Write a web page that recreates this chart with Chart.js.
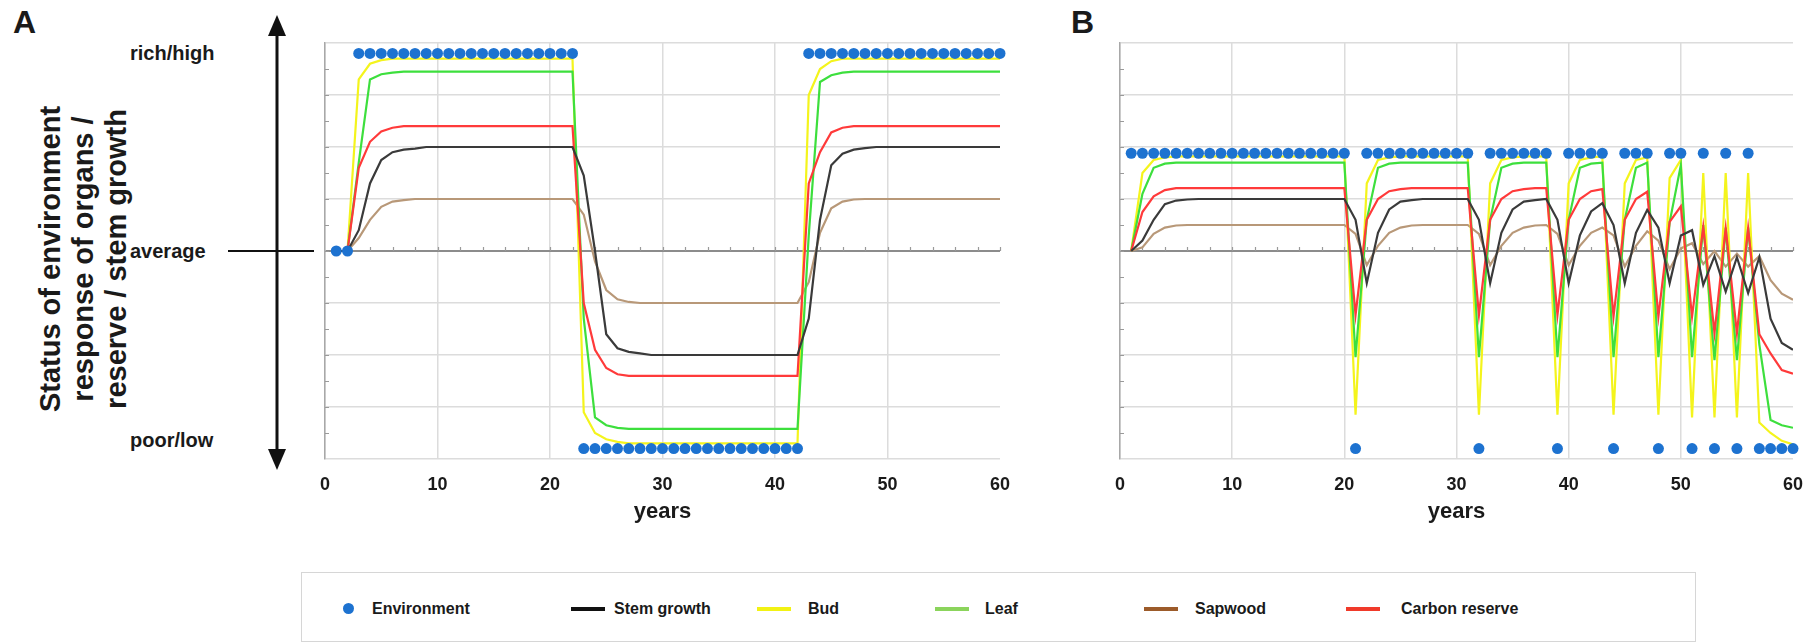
<!DOCTYPE html>
<html>
<head>
<meta charset="utf-8">
<script src="https://cdn.jsdelivr.net/npm/chart.js@4.4.1/dist/chart.umd.min.js"></script>
<style>
  body { margin: 0; background: #fff; width: 1811px; height: 644px; position: relative; overflow: hidden;
         font-family: "Liberation Sans", Arial, sans-serif; color: #1a1a1a; }
  .abs { position: absolute; }
  .panel { position: absolute; font-weight: bold; font-size: 32px; line-height: 32px; }
  .lvl { position: absolute; left: 130px; font-weight: bold; font-size: 20px; line-height: 20px; transform: translateY(-50%); }
  #ytitle { position: absolute; left: 83px; top: 259px; width: 440px; font-size: 29px; font-weight: bold; line-height: 33px; text-align: center;
            transform: translate(-50%, -50%) rotate(-90deg); white-space: nowrap; }
  #legend { position: absolute; left: 301px; top: 572px; width: 1395px; height: 70px; border: 1.5px solid #d6d6d6; box-sizing: border-box; }
  .lg { position: absolute; top: 609px; font-weight: bold; font-size: 16px; line-height: 16px; transform: translateY(-50%); }
  .sw { position: absolute; top: 607px; width: 34px; height: 4px; }
  .dot { position: absolute; top: 603px; width: 11px; height: 11px; border-radius: 50%; }
</style>
</head>
<body>
<div class="panel" style="left:13px; top:6px;">A</div>
<div class="panel" style="left:1071px; top:6px;">B</div>
<div id="ytitle">Status of environment<br>response of organs /<br>reserve / stem growth</div>
<div class="lvl" style="top:53px;">rich/high</div>
<div class="lvl" style="top:251px;">average</div>
<div class="lvl" style="top:440px;">poor/low</div>
<svg class="abs" style="left:0; top:0;" width="330" height="480">
  <line x1="277" y1="30" x2="277" y2="455" stroke="#111" stroke-width="3"/>
  <polygon points="277,15 268,36 286,36" fill="#111"/>
  <polygon points="277,470 268,449 286,449" fill="#111"/>
  <line x1="228" y1="251" x2="314" y2="251" stroke="#111" stroke-width="2"/>
</svg>

<canvas id="chartA" class="abs" style="left:315px; top:23px;" width="700" height="510"></canvas>
<canvas id="chartB" class="abs" style="left:1110px; top:23px;" width="695" height="510"></canvas>

<div id="legend"></div>
<div class="dot" style="left:343px; background:#1d72d0;"></div><div class="lg" style="left:372px;">Environment</div>
<div class="sw" style="left:571px; background:#111;"></div><div class="lg" style="left:614px;">Stem growth</div>
<div class="sw" style="left:757px; background:#f2f214;"></div><div class="lg" style="left:808px;">Bud</div>
<div class="sw" style="left:935px; background:#8bd45c;"></div><div class="lg" style="left:985px;">Leaf</div>
<div class="sw" style="left:1144px; background:#9c5b2a;"></div><div class="lg" style="left:1195px;">Sapwood</div>
<div class="sw" style="left:1346px; background:#f03a2a;"></div><div class="lg" style="left:1401px;">Carbon reserve</div>

<script>
const years = [1,2,3,4,5,6,7,8,9,10,
  11,12,13,14,15,16,17,18,19,20,
  21,22,23,24,25,26,27,28,29,30,
  31,32,33,34,35,36,37,38,39,40,
  41,42,43,44,45,46,47,48,49,50,
  51,52,53,54,55,56,57,58,59,60];
const xTicks = [0, 10, 20, 30, 40, 50, 60];

// Panel A: one long favourable / unfavourable swing
const envA = [0,0,3.8,3.8,3.8,3.8,3.8,3.8,3.8,3.8,
  3.8,3.8,3.8,3.8,3.8,3.8,3.8,3.8,3.8,3.8,
  3.8,3.8,-3.8,-3.8,-3.8,-3.8,-3.8,-3.8,-3.8,-3.8,
  -3.8,-3.8,-3.8,-3.8,-3.8,-3.8,-3.8,-3.8,-3.8,-3.8,
  -3.8,-3.8,3.8,3.8,3.8,3.8,3.8,3.8,3.8,3.8,
  3.8,3.8,3.8,3.8,3.8,3.8,3.8,3.8,3.8,3.8];
const budA = [0,0,3.3,3.6,3.67,3.7,3.7,3.7,3.7,3.7,
  3.7,3.7,3.7,3.7,3.7,3.7,3.7,3.7,3.7,3.7,
  3.7,3.7,-3.1,-3.5,-3.62,-3.67,-3.7,-3.7,-3.7,-3.7,
  -3.7,-3.7,-3.7,-3.7,-3.7,-3.7,-3.7,-3.7,-3.7,-3.7,
  -3.7,-3.7,3.0,3.5,3.65,3.7,3.7,3.7,3.7,3.7,
  3.7,3.7,3.7,3.7,3.7,3.7,3.7,3.7,3.7,3.7];
const leafA = [0,0,1.7,3.3,3.4,3.43,3.45,3.45,3.45,3.45,
  3.45,3.45,3.45,3.45,3.45,3.45,3.45,3.45,3.45,3.45,
  3.45,3.45,-1.3,-3.2,-3.35,-3.4,-3.42,-3.42,-3.42,-3.42,
  -3.42,-3.42,-3.42,-3.42,-3.42,-3.42,-3.42,-3.42,-3.42,-3.42,
  -3.42,-3.42,0.3,3.25,3.38,3.43,3.45,3.45,3.45,3.45,
  3.45,3.45,3.45,3.45,3.45,3.45,3.45,3.45,3.45,3.45];
const carbonA = [0,0,1.6,2.1,2.3,2.37,2.4,2.4,2.4,2.4,
  2.4,2.4,2.4,2.4,2.4,2.4,2.4,2.4,2.4,2.4,
  2.4,2.4,-1.0,-1.9,-2.25,-2.37,-2.4,-2.4,-2.4,-2.4,
  -2.4,-2.4,-2.4,-2.4,-2.4,-2.4,-2.4,-2.4,-2.4,-2.4,
  -2.4,-2.4,1.3,1.9,2.28,2.37,2.4,2.4,2.4,2.4,
  2.4,2.4,2.4,2.4,2.4,2.4,2.4,2.4,2.4,2.4];
const stemA = [0,0,0.4,1.3,1.75,1.9,1.95,1.97,2,2,
  2,2,2,2,2,2,2,2,2,2,
  2,2,1.45,0,-1.6,-1.87,-1.94,-1.97,-2,-2,
  -2,-2,-2,-2,-2,-2,-2,-2,-2,-2,
  -2,-2,-1.3,0.6,1.65,1.87,1.95,1.98,2,2,
  2,2,2,2,2,2,2,2,2,2];
const sapA = [0,0,0.25,0.6,0.85,0.95,0.98,1,1,1,
  1,1,1,1,1,1,1,1,1,1,
  1,1,0.7,-0.2,-0.75,-0.93,-0.98,-1,-1,-1,
  -1,-1,-1,-1,-1,-1,-1,-1,-1,-1,
  -1,-1,-0.6,0.35,0.82,0.95,0.99,1,1,1,
  1,1,1,1,1,1,1,1,1,1];

// Panel B: shortening good spells broken by single poor years
const envB = [1.88,1.88,1.88,1.88,1.88,1.88,1.88,1.88,1.88,1.88,
  1.88,1.88,1.88,1.88,1.88,1.88,1.88,1.88,1.88,1.88,
  -3.8,1.88,1.88,1.88,1.88,1.88,1.88,1.88,1.88,1.88,
  1.88,-3.8,1.88,1.88,1.88,1.88,1.88,1.88,-3.8,1.88,
  1.88,1.88,1.88,-3.8,1.88,1.88,1.88,-3.8,1.88,1.88,
  -3.8,1.88,-3.8,1.88,-3.8,1.88,-3.8,-3.8,-3.8,-3.8];
const budB = [0,1.5,1.75,1.8,1.82,1.82,1.82,1.82,1.82,1.82,
  1.82,1.82,1.82,1.82,1.82,1.82,1.82,1.82,1.82,1.82,
  -3.15,1.3,1.75,1.8,1.82,1.82,1.82,1.82,1.82,1.82,
  1.82,-3.15,1.3,1.75,1.8,1.82,1.82,1.82,-3.15,1.3,
  1.75,1.8,1.82,-3.15,1.3,1.75,1.8,-3.15,1.4,1.75,
  -3.2,1.5,-3.2,1.5,-3.2,1.5,-3.3,-3.5,-3.65,-3.72];
const leafB = [0,1.1,1.6,1.68,1.7,1.7,1.7,1.7,1.7,1.7,
  1.7,1.7,1.7,1.7,1.7,1.7,1.7,1.7,1.7,1.7,
  -2.04,0.6,1.6,1.68,1.7,1.7,1.7,1.7,1.7,1.7,
  1.7,-2.04,0.6,1.6,1.68,1.7,1.7,1.7,-2.04,0.6,
  1.6,1.68,1.7,-2.04,0.6,1.6,1.7,-2.04,0.55,1.65,
  -2.04,0.5,-2.1,0.45,-2.1,0.45,-1.8,-3.25,-3.35,-3.4];
const carbonB = [0,0.75,1.05,1.17,1.21,1.21,1.21,1.21,1.21,1.21,
  1.21,1.21,1.21,1.21,1.21,1.21,1.21,1.21,1.21,1.21,
  -1.23,0.6,1.0,1.15,1.19,1.21,1.21,1.21,1.21,1.21,
  1.21,-1.23,0.6,1.0,1.15,1.19,1.21,1.21,-1.23,0.6,
  1.0,1.15,1.19,-1.26,0.6,1.0,1.14,-1.26,0.56,0.86,
  -1.26,0.47,-1.58,0.44,-1.58,0.44,-1.6,-1.97,-2.29,-2.36];
const stemB = [0,0.2,0.6,0.9,0.97,0.99,1,1,1,1,
  1,1,1,1,1,1,1,1,1,1,
  0.6,-0.62,0.35,0.8,0.95,0.98,1,1,1,1,
  1,0.6,-0.62,0.35,0.8,0.95,0.98,1,0.6,-0.62,
  0.3,0.76,0.92,0.5,-0.62,0.35,0.79,0.45,-0.62,0.3,
  0.4,-0.65,-0.1,-0.78,-0.12,-0.81,-0.12,-1.3,-1.77,-1.9];
const sapB = [0,0.07,0.33,0.45,0.49,0.5,0.5,0.5,0.5,0.5,
  0.5,0.5,0.5,0.5,0.5,0.5,0.5,0.5,0.5,0.5,
  0.33,-0.27,0.1,0.35,0.45,0.49,0.5,0.5,0.5,0.5,
  0.5,0.33,-0.27,0.1,0.35,0.45,0.49,0.5,0.33,-0.27,
  0.1,0.35,0.45,0.3,-0.3,0.1,0.38,0.2,-0.35,0.05,
  0.15,-0.25,0,-0.3,-0.05,-0.3,-0.1,-0.56,-0.82,-0.94];

const FONT = '"Liberation Sans", Arial, sans-serif';
const colors = {
  env: '#1d72d0', stem: '#3a3a3a', bud: '#f4f41c', leaf: '#3ddf3d', sap: '#b89878', carbon: '#ff3a3a'
};

const pts = vals => vals.map((v, i) => ({ x: years[i], y: v }));
const lineSet = (label, vals, color) => ({
  label, data: pts(vals), borderColor: color, borderWidth: 2.2,
  pointRadius: 0, tension: 0, fill: false
});

// small ticks on the left axis (half units) and on the average line (every 2 years)
const minorTicks = {
  id: 'minorTicks',
  beforeDatasetsDraw(chart) {
    const { ctx, chartArea, scales: { x, y } } = chart;
    ctx.save();
    ctx.strokeStyle = '#9a9a9a';
    ctx.lineWidth = 1.2;
    ctx.beginPath();
    for (let v = -3.5; v <= 3.5; v += 0.5) {
      const py = Math.round(y.getPixelForValue(v)) + 0.5;
      ctx.moveTo(chartArea.left, py);
      ctx.lineTo(chartArea.left + 4, py);
    }
    const y0 = y.getPixelForValue(0);
    for (let t = 2; t <= 60; t += 2) {
      const px = Math.round(x.getPixelForValue(t)) + 0.5;
      ctx.moveTo(px, y0 - 4);
      ctx.lineTo(px, y0);
    }
    ctx.stroke();
    ctx.restore();
  }
};

function makeChart(id, env, stem, bud, leaf, sap, carbon) {
  return new Chart(document.getElementById(id), {
    type: 'line',
    data: {
      datasets: [
        { label: 'Environment', data: pts(env), showLine: false, pointRadius: 5.5,
          pointBackgroundColor: colors.env, pointBorderWidth: 0, clip: false },
        lineSet('Stem growth', stem, colors.stem),
        lineSet('Carbon reserve', carbon, colors.carbon),
        lineSet('Leaf', leaf, colors.leaf),
        lineSet('Bud', bud, colors.bud),
        lineSet('Sapwood', sap, colors.sap)
      ]
    },
    options: {
      responsive: false,
      animation: false,
      events: [],
      layout: { padding: { left: 10, right: id === 'chartA' ? 15 : 12, top: 20, bottom: 0 } },
      plugins: { legend: { display: false }, tooltip: { enabled: false } },
      scales: {
        x: {
          type: 'linear', min: 0, max: 60,
          afterBuildTicks: s => { s.ticks = xTicks.map(v => ({ value: v })); },
          ticks: { padding: 0, color: '#1a1a1a', font: { family: FONT, size: 18, weight: 'bold' } },
          grid: { drawTicks: true, tickLength: 15, tickColor: 'rgba(0,0,0,0)', lineWidth: 1.5,
                  color: c => c.tick.value === 60 ? 'rgba(0,0,0,0)' : '#dcdcdc' },
          border: { display: false },
          title: { display: true, text: 'years', color: '#1a1a1a',
                   font: { family: FONT, size: 22, weight: 'bold' }, padding: { top: 0, bottom: 8 } },
          afterFit: s => { s.height = 74; }
        },
        y: {
          min: -4, max: 4,
          ticks: { display: false, stepSize: 1 },
          grid: { drawTicks: false,
                  color: c => c.tick.value === 0 ? '#8c8c8c' : '#dcdcdc',
                  lineWidth: c => c.tick.value === 0 ? 2 : 1.5 },
          border: { color: '#a8a8a8', width: 1.5 },
          afterFit: s => { s.width = 0; }
        }
      }
    },
    plugins: [minorTicks]
  });
}

makeChart('chartA', envA, stemA, budA, leafA, sapA, carbonA);
makeChart('chartB', envB, stemB, budB, leafB, sapB, carbonB);
</script>
</body>
</html>
